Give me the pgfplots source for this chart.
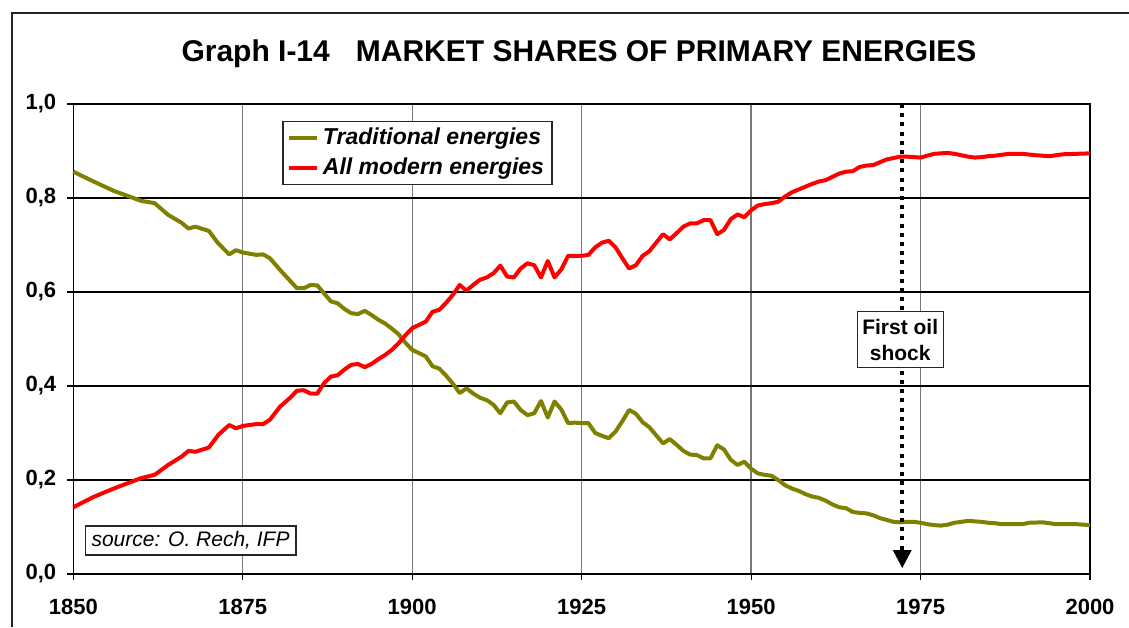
\documentclass[border=0pt]{standalone}
\usepackage{fontspec}
\setmainfont{Liberation Sans}
\usepackage{pgfplots}
\pgfplotsset{compat=1.18}
\definecolor{olivec}{RGB}{128,128,0}
\definecolor{redc}{RGB}{255,0,0}
\definecolor{gridv}{RGB}{120,120,120}
\begin{document}
\begin{tikzpicture}
\begin{scope}[x=0.5pt,y=-0.5pt,shift={(-36.65pt,287pt)}]
\useasboundingbox (0,0) rectangle (1129,627);
\draw[black!85, line width=0.7pt] (12,627) -- (12,13) -- (1129,13);
\node[anchor=base, inner sep=0pt, font=\fontsize{15}{17}\selectfont\bfseries] at (579,61.7) {Graph I-14\hspace{13pt}MARKET SHARES OF PRIMARY ENERGIES};
\end{scope}
\begin{axis}[
 at={(0,0)}, anchor=south west,
 scale only axis, width=508.35pt, height=235pt,
 xmin=1850, xmax=2000, ymin=0, ymax=1,
 xtick={1850,1875,1900,1925,1950,1975,2000},
 ytick={0,0.2,0.4,0.6,0.8,1},
 xticklabels={1850,1875,1900,1925,1950,1975,2000},
 yticklabels={{0,0},{0,2},{0,4},{0,6},{0,8},{1,0}},
 ticklabel style={font=\fontsize{11}{13}\selectfont\bfseries},
 xticklabel style={yshift=-6pt},
 yticklabel style={xshift=-2pt},
 tick align=outside, major tick length=3pt, tick pos=left,
 tick style={black, line width=0.6pt},
 axis line style={black, line width=0.7pt},
 xmajorgrids, ymajorgrids,
 x grid style={gridv, line width=0.7pt},
 y grid style={black, line width=0.6pt},
 clip=false,
 legend style={at={(0.2056,0.9645)}, anchor=north west, draw=black!85, line width=0.6pt,
   font=\fontsize{11.5}{13}\selectfont\bfseries\itshape, row sep=1pt,
   inner xsep=2pt, inner ysep=1.5pt, cells={anchor=west}},
 legend image code/.code={\draw[#1, line width=2pt] (0pt,0pt) -- (14pt,0pt);},
]
\addplot[olivec, line width=2pt, line join=round] coordinates {
(1850,0.856) (1853,0.835) (1856,0.815) (1860,0.794) (1862,0.789) (1864,0.764)
(1866,0.747) (1867,0.735) (1868,0.739) (1870,0.730) (1871.3,0.705) (1873,0.680)
(1874,0.689) (1875,0.684) (1877,0.679) (1878,0.680) (1879,0.672) (1880.5,0.647)
(1883,0.608) (1884,0.608) (1885,0.615) (1886,0.614) (1887,0.597) (1888,0.580)
(1889,0.576) (1890,0.564) (1891,0.555) (1892,0.553) (1893,0.560) (1894,0.551)
(1895,0.541) (1896,0.533) (1897,0.522) (1898,0.510) (1899,0.492) (1900,0.477)
(1901,0.470) (1902,0.463) (1903,0.442) (1904,0.437) (1905,0.422) (1906,0.405)
(1907,0.385) (1908,0.395) (1909,0.384) (1910,0.375) (1911,0.370) (1912,0.360)
(1913,0.342) (1914,0.365) (1915,0.367) (1916,0.349) (1917,0.338) (1918,0.342)
(1919,0.368) (1920,0.333) (1921,0.367) (1922,0.350) (1923,0.321) (1924,0.322)
(1925,0.321) (1926,0.321) (1927,0.300) (1928,0.294) (1929,0.289) (1930,0.303)
(1931,0.325) (1932,0.349) (1933,0.341) (1934,0.323) (1935,0.312) (1936,0.295)
(1937,0.278) (1938,0.287) (1939,0.275) (1940,0.262) (1941,0.254) (1942,0.253)
(1943,0.246) (1944,0.246) (1945,0.274) (1946,0.265) (1947,0.243) (1948,0.232)
(1949,0.239) (1950,0.224) (1951,0.214) (1952,0.211) (1953,0.209) (1954,0.200)
(1955,0.189) (1956,0.182) (1957,0.177) (1958,0.170) (1959,0.165) (1960,0.162)
(1961,0.156) (1962,0.148) (1963,0.142) (1964,0.140) (1965,0.132) (1966,0.130)
(1967,0.129) (1968,0.125) (1969,0.119) (1970,0.115) (1971,0.111) (1972,0.110)
(1973,0.111) (1974,0.111) (1975,0.109) (1976,0.106) (1977,0.104) (1978,0.103)
(1979,0.105) (1980,0.109) (1981,0.111) (1982,0.113) (1983,0.112) (1984,0.111)
(1985,0.109) (1986,0.108) (1987,0.106) (1988,0.106) (1990,0.106) (1991,0.109)
(1993,0.110) (1995,0.106) (1998,0.106) (2000,0.104)
};
\addlegendentry{Traditional energies}
\addplot[redc, line width=2pt, line join=round] coordinates {
(1850,0.142) (1853,0.164) (1856,0.182) (1860,0.204) (1862,0.211) (1864,0.232)
(1866,0.250) (1867,0.262) (1868,0.260) (1870,0.269) (1871.4,0.296) (1873,0.317)
(1874,0.310) (1875,0.315) (1877,0.319) (1878,0.319) (1879,0.328) (1880.5,0.356)
(1882,0.375) (1883,0.390) (1884,0.391) (1885,0.384) (1886,0.384) (1887,0.406)
(1888,0.420) (1889,0.423) (1890,0.435) (1891,0.445) (1892,0.447) (1893,0.440)
(1894,0.447) (1895,0.457) (1896,0.466) (1897,0.477) (1898,0.491) (1899,0.508)
(1900,0.523) (1901,0.530) (1902,0.537) (1903,0.558) (1904,0.562) (1905,0.577)
(1906,0.594) (1907,0.615) (1908,0.603) (1909,0.615) (1910,0.626) (1911,0.631)
(1912,0.640) (1913,0.656) (1914,0.633) (1915,0.631) (1916,0.650) (1917,0.661)
(1918,0.657) (1919,0.631) (1920,0.666) (1921,0.631) (1922,0.648) (1923,0.677)
(1924,0.677) (1925,0.677) (1926,0.679) (1927,0.695) (1928,0.705) (1929,0.709)
(1930,0.695) (1931,0.672) (1932,0.650) (1933,0.657) (1934,0.677) (1935,0.687)
(1936,0.705) (1937,0.723) (1938,0.712) (1939,0.725) (1940,0.739) (1941,0.746)
(1942,0.746) (1943,0.753) (1944,0.753) (1945,0.723) (1946,0.732) (1947,0.755)
(1948,0.765) (1949,0.759) (1950,0.774) (1951,0.784) (1952,0.787) (1953,0.789)
(1954,0.792) (1955,0.803) (1956,0.812) (1957,0.818) (1958,0.824) (1959,0.830)
(1960,0.835) (1961,0.838) (1962,0.845) (1963,0.852) (1964,0.856) (1965,0.857)
(1966,0.866) (1967,0.869) (1968,0.870) (1969,0.876) (1970,0.882) (1971,0.885)
(1972,0.888) (1973,0.888) (1974,0.887) (1975,0.886) (1976,0.890) (1977,0.894)
(1978,0.895) (1979,0.896) (1980,0.894) (1981,0.891) (1982,0.888) (1983,0.886)
(1984,0.887) (1985,0.889) (1986,0.890) (1988,0.894) (1990,0.894) (1992,0.891)
(1994,0.889) (1996,0.893) (1998,0.894) (2000,0.895)
};
\addlegendentry{All modern energies}
\draw[black, line width=2pt, dash pattern=on 2pt off 2.6pt] (axis cs:1972.3,1.0) -- (axis cs:1972.3,0.051);
\fill[black] (axis cs:1970.9,0.051) -- (axis cs:1973.7,0.051) -- (axis cs:1972.3,0.0128) -- cycle;
\node[draw=black!85, fill=white, line width=0.6pt, align=center, inner sep=1pt,
  font=\fontsize{10.5}{13}\selectfont\bfseries, minimum width=43pt, minimum height=28pt]
  at (axis cs:1972.0,0.4985) {First oil\\shock};
\node[draw=black!85, fill=white, line width=0.6pt, inner sep=1pt,
  font=\fontsize{10.5}{12}\selectfont\itshape, minimum width=105.4pt, minimum height=14.5pt]
  at (axis cs:1867.3,0.0713) {source: O. Rech, IFP};
\end{axis}
\end{tikzpicture}
\end{document}
